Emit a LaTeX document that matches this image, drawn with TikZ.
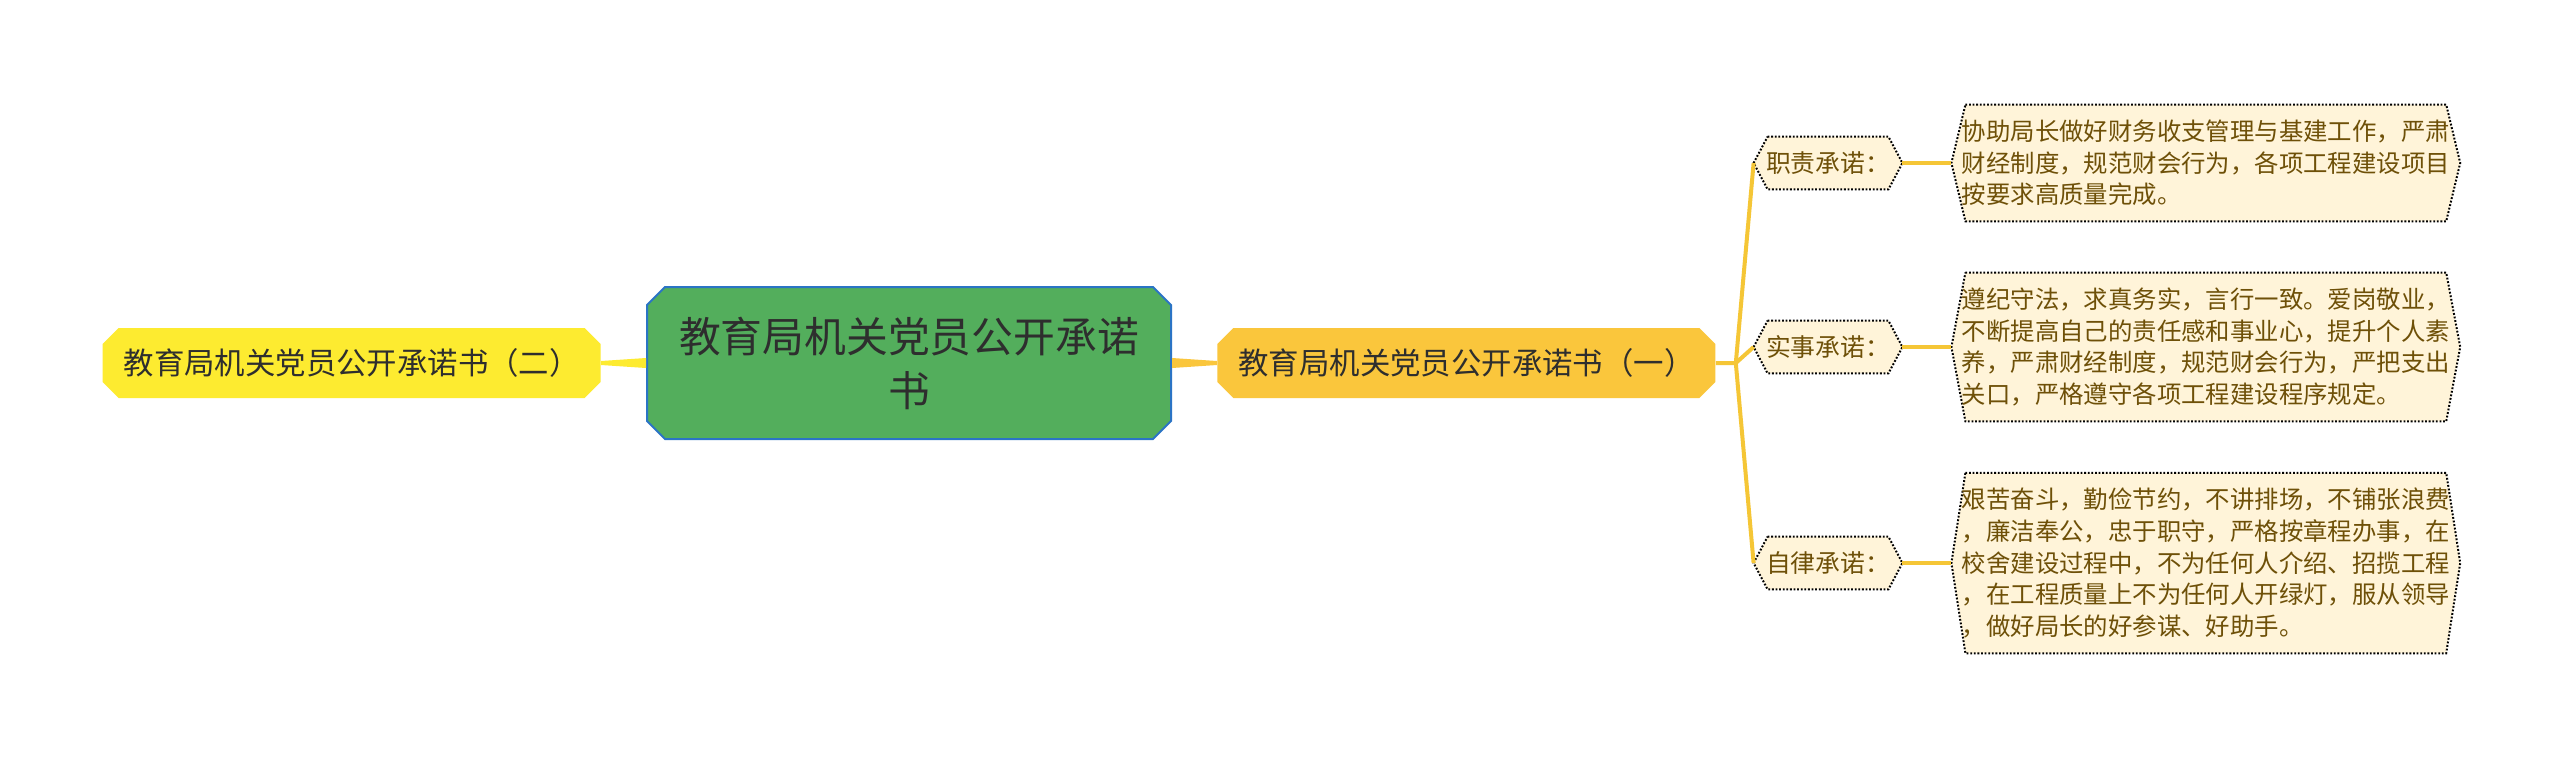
\documentclass[tikz,border=0pt]{standalone}
\usepackage{fontspec}
\newfontfamily\zhfont{Noto Sans CJK SC}
\usetikzlibrary{positioning,shapes.misc,backgrounds}

\definecolor{rootgreen}{HTML}{53AE5C}
\definecolor{rootblue}{HTML}{2B74C5}
\definecolor{lefty}{HTML}{FDEB30}
\definecolor{righty}{HTML}{FAC63C}
\definecolor{linky}{HTML}{F5C636}
\definecolor{cream}{HTML}{FFF4D9}
\definecolor{brownish}{HTML}{6E5008}
\definecolor{darktext}{HTML}{2E2E2E}

\begin{document}
\begin{tikzpicture}[x=0.5pt, y=-0.5pt, font=\zhfont]
        \tikzstyle{root}=[chamfered rectangle, chamfered rectangle xsep=4.5pt, chamfered rectangle ysep=4.5pt, draw=rootblue, line width=1pt, fill=rootgreen, text=darktext, minimum width=262pt, minimum height=76pt, inner sep=0pt, align=center, font=\zhfont\fontsize{20.9pt}{27pt}\selectfont]
        \tikzstyle{topic}=[chamfered rectangle, chamfered rectangle xsep=4pt, chamfered rectangle ysep=4pt, text=darktext, minimum width=249pt, minimum height=35pt, inner sep=0pt, font=\zhfont\fontsize{15.2pt}{18pt}\selectfont]
        \tikzstyle{tag}=[rectangle, text=brownish, minimum width=73.5pt, minimum height=26pt, inner xsep=6pt, font=\zhfont\fontsize{12.4pt}{15pt}\selectfont]
        \tikzstyle{detail}=[rectangle, text=brownish, minimum width=253pt, inner xsep=5pt, inner ysep=7.5pt, align=left, font=\zhfont\fontsize{12.2pt}{15.8pt}\selectfont]
        \tikzstyle{link}=[draw=linky, line width=2pt, line join=round]
        \tikzstyle{hexline}=[draw=black, line width=1pt, dash pattern=on 0.9pt off 0.9pt, fill=cream]

        \useasboundingbox (0,0) rectangle (2560,757);

        \node[root] (root) at (909,363) {教育局机关党员公开承诺\\书};
        \node[topic, fill=lefty, left=22.5pt of root] (two) {教育局机关党员公开承诺书（二）};
        \node[topic, fill=righty, right=22.5pt of root] (one) {教育局机关党员公开承诺书（一）};

        \node[tag] (duty) at (1828,163) {职责承诺：};
        \node[tag] (deed) at (1828,347) {实事承诺：};
        \node[tag] (self) at (1828,563) {自律承诺：};

        \node[detail, right=24.5pt of duty] (dutybox) {协助局长做好财务收支管理与基建工作，严肃\\财经制度，规范财会行为，各项工程建设项目\\按要求高质量完成。};
        \node[detail, right=24.5pt of deed] (deedbox) {遵纪守法，求真务实，言行一致。爱岗敬业，\\不断提高自己的责任感和事业心，提升个人素\\养，严肃财经制度，规范财会行为，严把支出\\关口，严格遵守各项工程建设程序规定。};
        \node[detail, right=24.5pt of self] (selfbox) {艰苦奋斗，勤俭节约，不讲排场，不铺张浪费\\，廉洁奉公，忠于职守，严格按章程办事，在\\校舍建设过程中，不为任何人介绍、招揽工程\\，在工程质量上不为任何人开绿灯，服从领导\\，做好局长的好参谋、好助手。};

        \begin{scope}[on background layer]
            \fill[white] (0,0) rectangle (2560,757);
            \foreach \n in {duty,deed,self,dutybox,deedbox,selfbox}
                \path[hexline] ([xshift=7pt]\n.north west) -- ([xshift=-7pt]\n.north east) -- (\n.east) -- ([xshift=-7pt]\n.south east) -- ([xshift=7pt]\n.south west) -- (\n.west) -- cycle;
        \end{scope}

        \fill[lefty] ([yshift=2.5pt]root.west) -- ([yshift=1pt]two.east) -- ([yshift=-1pt]two.east) -- ([yshift=-2.5pt]root.west) -- cycle;
        \fill[righty] ([yshift=2.5pt]root.east) -- ([yshift=1pt]one.west) -- ([yshift=-1pt]one.west) -- ([yshift=-2.5pt]root.east) -- cycle;

        \coordinate (fork) at ([xshift=10pt]one.east);
        \draw[link] (one.east) -- (fork) -- (duty.west);
        \draw[link] (fork) -- (deed.west);
        \draw[link] (fork) -- (self.west);

        \draw[link] (duty) -- (dutybox);
        \draw[link] (deed) -- (deedbox);
        \draw[link] (self) -- (selfbox);
\end{tikzpicture}
\end{document}
